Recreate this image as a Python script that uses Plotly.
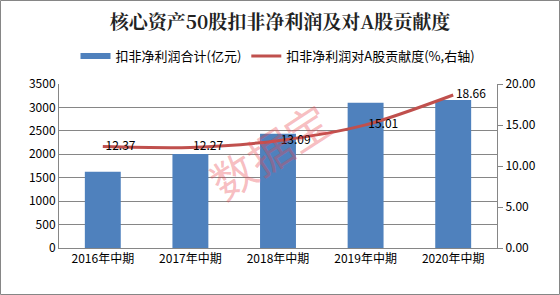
import plotly.graph_objects as go

categories = ["2016年中期", "2017年中期", "2018年中期", "2019年中期", "2020年中期"]
profit = [1625, 2005, 2440, 3100, 3160]
contribution = [12.37, 12.27, 13.09, 15.01, 18.66]
left_ticks = [0, 500, 1000, 1500, 2000, 2500, 3000, 3500]
right_ticks = [0, 5, 10, 15, 20]
bar_name = "扣非净利润合计(亿元)"
line_name = "扣非净利润对A股贡献度(%,右轴)"

font_cjk = "Microsoft YaHei, Noto Sans CJK SC, sans-serif"
blue = "#4F81BD"
red = "#C0504D"

fig = go.Figure()
fig.add_trace(go.Bar(
    x=categories, y=profit, name=bar_name, showlegend=False,
    marker=dict(color=blue, line=dict(width=0)), width=0.41,
))
# legend proxy for the bar series (wide flat rectangle like the reference)
fig.add_trace(go.Scatter(
    x=[None], y=[None], name=bar_name, mode="lines",
    line=dict(color=blue, width=6),
))
fig.add_trace(go.Scatter(
    x=categories, y=contribution, name=line_name,
    yaxis="y2", mode="lines+text", line=dict(color=red, width=3, shape="spline", smoothing=0.8),
    text=[" " + f"{v:.2f}" for v in contribution], textposition="middle right",
    textfont=dict(size=12, color="#000000", family=font_cjk),
))

fig.update_layout(
    width=560, height=295,
    margin=dict(l=59, r=63, t=84, b=47),
    paper_bgcolor="white", plot_bgcolor="white",
    font=dict(family=font_cjk, size=12, color="#000000"),
    title=dict(text="<b>核心资产50股扣非净利润及对A股贡献度</b>", x=0.5, xanchor="center",
               y=0.925, yanchor="middle",
               font=dict(size=19, color="#222222", family="Noto Serif CJK SC, Noto Sans CJK SC, serif")),
    showlegend=True,
    legend=dict(orientation="h", x=0.5, xanchor="center", y=1.17, yanchor="middle",
                font=dict(size=13), traceorder="normal"),
    xaxis=dict(showline=True, linecolor="#868686", linewidth=1, ticks="", showgrid=False,
               tickfont=dict(size=12)),
    yaxis=dict(range=[0, 3500], tickvals=left_ticks, showgrid=True, gridcolor="#868686", gridwidth=1,
               showline=True, linecolor="#868686", linewidth=1, ticks="", zeroline=False,
               tickfont=dict(size=12)),
    yaxis2=dict(range=[0, 20], tickvals=right_ticks, ticktext=[f"{v:.2f}" for v in right_ticks],
                overlaying="y", side="right", showgrid=False, showline=True, linecolor="#868686",
                linewidth=1, ticks="outside", ticklen=5, tickcolor="#868686", zeroline=False,
                tickfont=dict(size=12)),
    annotations=[dict(text="数据宝", x=0.48, y=0.6, xref="paper", yref="paper", showarrow=False,
                      textangle=-33, font=dict(size=44, color="rgba(232,70,80,0.36)"))],
)
# border around whole chart
fig.add_shape(type="rect", xref="paper", yref="paper", x0=-58.5/438, x1=1+62.5/438, y0=-46.5/164, y1=1+83.5/164,
              line=dict(color="#868686", width=1))

fig.write_html("out.html")
